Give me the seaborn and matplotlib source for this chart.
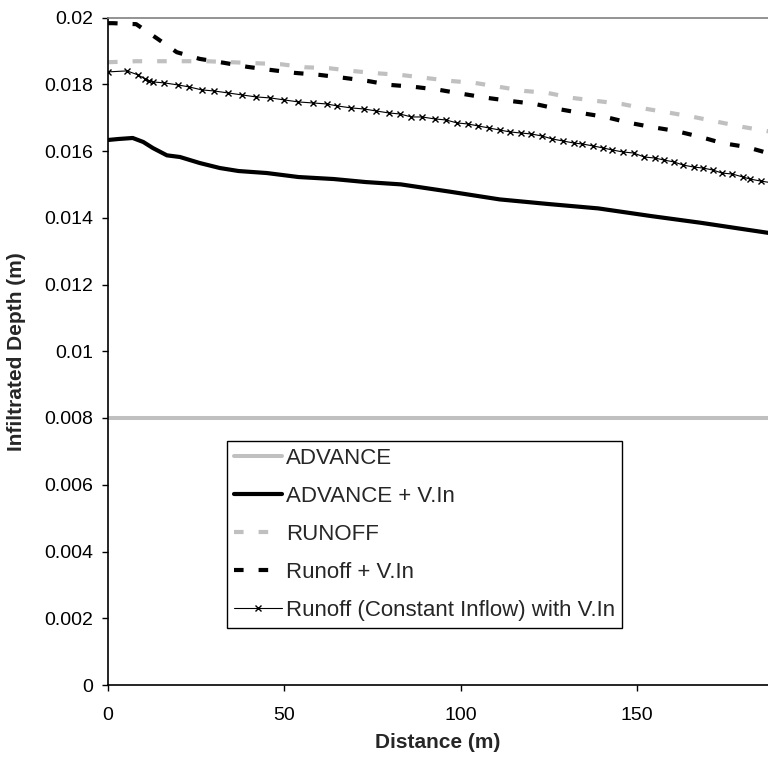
import matplotlib
matplotlib.use("Agg")
import matplotlib.pyplot as plt
import seaborn as sns
import pandas as pd

# ---------------- data ----------------
adv_x = [0, 50, 100, 150, 190]
adv_y = [0.008, 0.008, 0.008, 0.008, 0.008]

advvin_x = [0, 3, 7, 10, 12.7, 16.7, 20.4, 26, 31.7, 37, 45, 54, 64, 73, 83,
            97, 111, 125, 139, 154, 168, 180, 187, 190]
advvin_y = [0.01633, 0.01636, 0.01639, 0.01627, 0.01609, 0.01587, 0.01582, 0.01564,
            0.01549, 0.0154, 0.01534, 0.01522, 0.01516, 0.01507, 0.0150, 0.01478,
            0.01455, 0.01441, 0.01428, 0.01405, 0.01385, 0.01366, 0.01355, 0.0135]

runoff_x = [0, 8, 15, 21.8, 28, 35, 42, 49, 55.7, 62.7, 70, 76, 83, 90, 97, 104,
            111, 118, 124.6, 131.7, 138.5, 145.6, 152.7, 159.5, 166, 173, 180, 186.7, 190]
runoff_y = [0.01866, 0.01869, 0.01869, 0.01869, 0.01869, 0.01866, 0.01863, 0.0186,
            0.01851, 0.01848, 0.01839, 0.01833, 0.01828, 0.01819, 0.0181, 0.01804,
            0.01792, 0.0178, 0.01774, 0.01759, 0.0175, 0.01741, 0.01726, 0.01714,
            0.01702, 0.01687, 0.01672, 0.0166, 0.01655]

runvin_x = [0, 1.4, 8, 13.8, 19.5, 26, 33, 39.6, 46, 53, 60, 67, 73.5, 80, 87, 94,
            100.6, 107.6, 114, 121, 127.5, 134, 141, 148, 154, 161, 168, 174, 181, 187, 190]
runvin_y = [0.01983, 0.01983, 0.0198, 0.01938, 0.01896, 0.01876, 0.01864, 0.01852,
            0.01843, 0.01834, 0.01828, 0.01819, 0.0181, 0.01798, 0.01792, 0.01783,
            0.01771, 0.01759, 0.0175, 0.01741, 0.01726, 0.01714, 0.01702, 0.01684,
            0.01672, 0.0166, 0.01642, 0.01624, 0.01612, 0.01594, 0.01586]

const_x = [0, 5.4, 8.5, 10.5, 11.5, 12.7, 16, 19.8, 23, 26.6, 30, 34, 38, 42, 46, 50,
           54, 58, 62, 65, 69, 72.5, 76, 79.6, 82.7, 86, 89, 92.7, 95.8, 99, 102, 105,
           108, 111, 114, 117, 120, 123, 126, 129, 132, 134.5, 137.6, 140.4, 143, 146,
           149, 152, 155, 157.6, 160.5, 163, 166, 168.6, 171.5, 174, 177, 180, 182, 185, 188]
const_y = [0.01837, 0.0184, 0.01828, 0.01816, 0.0181, 0.01807, 0.01804, 0.01798,
           0.01792, 0.01783, 0.0178, 0.01774, 0.01768, 0.01762, 0.01759, 0.01753,
           0.01747, 0.01744, 0.01741, 0.01735, 0.01729, 0.01726, 0.0172, 0.01714,
           0.01711, 0.01702, 0.01702, 0.01696, 0.01693, 0.01684, 0.01681, 0.01675,
           0.01669, 0.01663, 0.01657, 0.01654, 0.01651, 0.01645, 0.01636, 0.0163,
           0.01624, 0.01621, 0.01615, 0.01609, 0.01603, 0.01597, 0.01594, 0.01582,
           0.01579, 0.01573, 0.01567, 0.01558, 0.01552, 0.01549, 0.01543, 0.01534,
           0.01531, 0.01522, 0.01516, 0.0151, 0.01505]

labels = ["ADVANCE", "ADVANCE + V.In", "RUNOFF", "Runoff + V.In",
          "Runoff (Constant Inflow) with V.In"]

x_ticks = [0, 50, 100, 150]
y_ticks = [0, 0.002, 0.004, 0.006, 0.008, 0.01, 0.012, 0.014, 0.016, 0.018, 0.02]
y_ticklabels = ["0", "0.002", "0.004", "0.006", "0.008", "0.01", "0.012",
                "0.014", "0.016", "0.018", "0.02"]

# ---------------- style ----------------
sns.set_style("white")
plt.rcParams["font.family"] = ["Liberation Sans", "DejaVu Sans"]

fig = plt.figure(figsize=(7.68, 7.6), dpi=100)
ax = fig.add_axes([108 / 768, 1 - 685 / 760, 660 / 768, 667.5 / 760])

GRAY = "#C0C0C0"
DASH = (0, (2.3, 3.6))
sns.lineplot(x=adv_x, y=adv_y, ax=ax, color=GRAY, linewidth=2.9, label=labels[0],
             estimator=None, sort=False)
sns.lineplot(x=advvin_x, y=advvin_y, ax=ax, color="black", linewidth=3.0,
             label=labels[1], estimator=None, sort=False)
sns.lineplot(x=runoff_x, y=runoff_y, ax=ax, color=GRAY, linewidth=3.0,
             linestyle=DASH, label=labels[2], estimator=None, sort=False)
sns.lineplot(x=runvin_x, y=runvin_y, ax=ax, color="black", linewidth=3.0,
             linestyle=DASH, label=labels[3], estimator=None, sort=False)
sns.lineplot(x=const_x, y=const_y, ax=ax, color="black", linewidth=0.8,
             marker="x", markersize=4, markeredgewidth=1.0, markeredgecolor="black",
             label=labels[4], estimator=None, sort=False)

ax.set_xlim(0, 187.1)
ax.set_ylim(0, 0.02)
ax.set_xticks(x_ticks)
ax.set_xticklabels([str(v) for v in x_ticks])
ax.set_yticks(y_ticks)
ax.set_yticklabels(y_ticklabels)

ax.tick_params(axis="both", which="major", direction="out", length=4.5, width=1,
               color="black", labelsize=14, labelcolor="black")
ax.tick_params(axis="y", pad=6)
ax.tick_params(axis="x", pad=11)
ax.tick_params(left=True, bottom=True)

for s in ["left", "bottom"]:
    ax.spines[s].set_color("black")
    ax.spines[s].set_linewidth(1.2)
ax.spines["top"].set_color("#808080")
ax.spines["top"].set_linewidth(1.2)
ax.spines["right"].set_visible(False)

ax.set_xlabel("Distance (m)", fontsize=15, fontweight="bold", labelpad=7)
ax.set_ylabel("Infiltrated Depth (m)", fontsize=15, fontweight="bold", labelpad=13)

handles, _ = ax.get_legend_handles_labels()
leg = ax.legend(handles, labels, loc="upper left", bbox_to_anchor=(0.180, 0.3655),
                borderaxespad=0, fontsize=16, frameon=True, fancybox=False,
                framealpha=1, edgecolor="black", handlelength=2.15,
                handletextpad=0.2, labelspacing=0.76, borderpad=0.32)
leg.get_frame().set_linewidth(1.0)

fig.savefig("out.png", dpi=100)
